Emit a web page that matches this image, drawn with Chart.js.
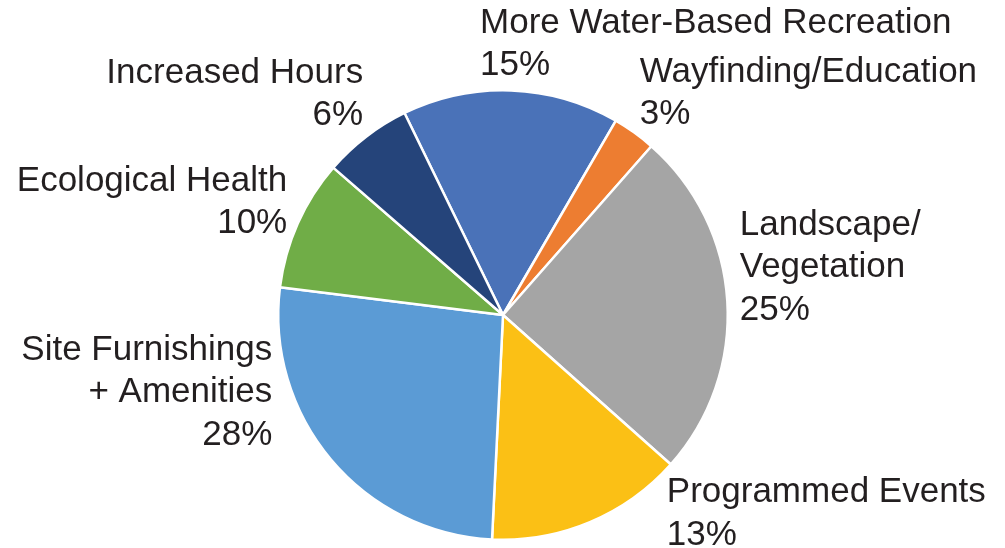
<!DOCTYPE html>
<html>
<head>
<meta charset="utf-8">
<script src="https://cdn.jsdelivr.net/npm/chart.js@4/dist/chart.umd.min.js"></script>
<style>
  html, body { margin: 0; padding: 0; background: #ffffff; }
  #c { display: block; }
</style>
</head>
<body>
<canvas id="c" width="1005" height="548"></canvas>
<script>
// ---- data ----
const categories = [
  "More Water-Based Recreation",
  "Wayfinding/Education",
  "Landscape/Vegetation",
  "Programmed Events",
  "Site Furnishings + Amenities",
  "Ecological Health",
  "Increased Hours"
];
const shares = [15.6, 3.1, 25.1, 14.2, 26.2, 9.4, 6.4];
const percentLabels = ["15%", "3%", "25%", "13%", "28%", "10%", "6%"];
const labelLines = [
  ["More Water-Based Recreation"],
  ["Wayfinding/Education"],
  ["Landscape/", "Vegetation"],
  ["Programmed Events"],
  ["Site Furnishings", "+ Amenities"],
  ["Ecological Health"],
  ["Increased Hours"]
];
const sliceColors = ["#4A72B8", "#ED7D31", "#A5A5A5", "#FBC015", "#5B9BD5", "#70AD47", "#25447A"];

// label block placement relative to pie centre (in px at radius 225)
const labelLayout = [
  { dx: -23,  dy: -292, align: "left"  },
  { dx: 137,  dy: -243, align: "left"  },
  { dx: 237,  dy: -90,  align: "left"  },
  { dx: 164,  dy: 178,  align: "left"  },
  { dx: -231, dy: 35,   align: "right" },
  { dx: -216, dy: -134, align: "right" },
  { dx: -140, dy: -242, align: "right" }
];

const FONT = '35px "Liberation Sans", Arial, Helvetica, sans-serif';
const LINE_H = 42.5;

const labelPlugin = {
  id: "outsideLabels",
  afterDatasetsDraw(chart) {
    const meta = chart.getDatasetMeta(0);
    if (!meta.data.length) return;
    const arc0 = meta.data[0];
    const cx = arc0.x, cy = arc0.y, r = arc0.outerRadius;
    const s = r / 225;
    const ctx = chart.ctx;
    ctx.save();
    ctx.font = FONT;
    ctx.fillStyle = "#231F20";
    ctx.textBaseline = "middle";
    labelLines.forEach((lines, i) => {
      const L = labelLayout[i];
      const all = lines.concat([percentLabels[i]]);
      ctx.textAlign = L.align;
      const x = cx + L.dx * s;
      let y = cy + L.dy * s;
      all.forEach(t => {
        ctx.fillText(t, x, y);
        y += LINE_H;
      });
    });
    ctx.restore();
  }
};

new Chart(document.getElementById("c"), {
  type: "pie",
  data: {
    labels: categories,
    datasets: [{
      data: shares,
      backgroundColor: sliceColors,
      borderColor: "#ffffff",
      borderWidth: 2.5
    }]
  },
  options: {
    responsive: false,
    animation: false,
    rotation: -26,
    layout: { padding: { left: 277, right: 276, top: 89, bottom: 7 } },
    plugins: {
      legend: { display: false },
      tooltip: { enabled: false }
    }
  },
  plugins: [labelPlugin]
});
</script>
</body>
</html>
